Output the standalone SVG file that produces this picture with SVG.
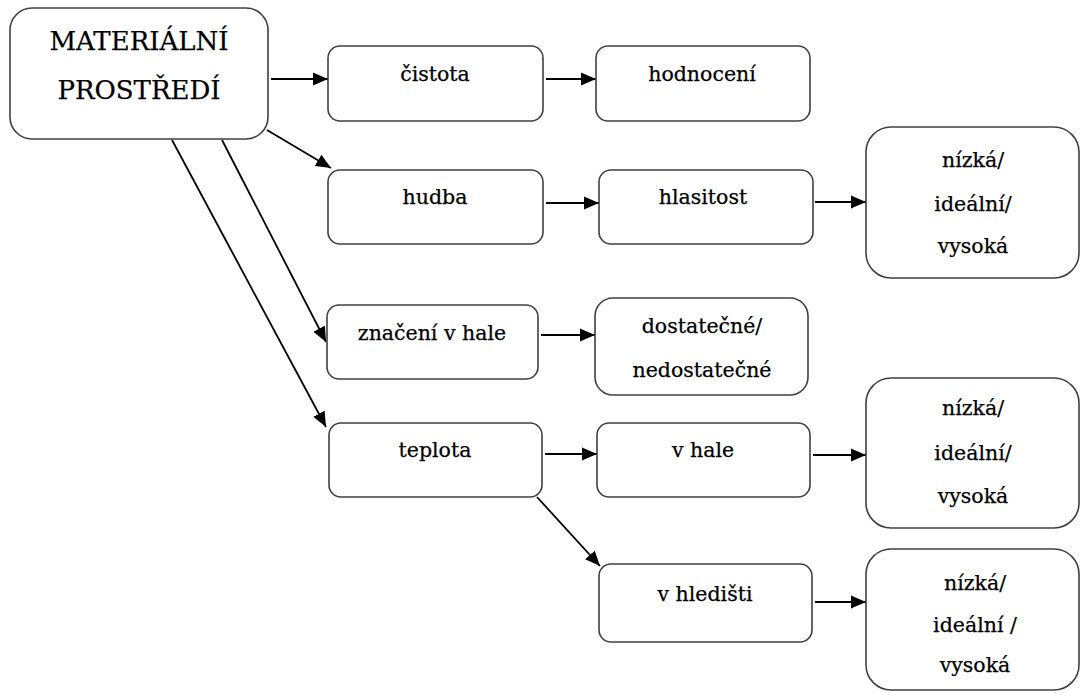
<svg xmlns="http://www.w3.org/2000/svg" width="1081" height="693" viewBox="0 0 1081 693">
<style>
.box{fill:#fff;stroke:#404040;stroke-width:1.6}
.t{font-family:"DejaVu Serif","Liberation Serif",serif;font-size:20.5px;fill:#000;stroke:#000;stroke-width:0.25;text-anchor:middle}
.big{font-size:26px}
.c{stroke:#000;stroke-width:1.8;fill:none;marker-end:url(#ah)}
</style>
<defs>
<marker id="ah" markerUnits="userSpaceOnUse" markerWidth="16" markerHeight="14" refX="15" refY="7" orient="auto">
<path d="M0,0.5 L15,7 L0,13.5 z" fill="#000"/>
</marker>
</defs>
<rect width="1081" height="693" fill="#fff"/>
<g id="connectors">
<line class="c" x1="271" y1="79" x2="328" y2="79"/>
<line class="c" x1="546" y1="79" x2="596" y2="79"/>
<line class="c" x1="267" y1="130" x2="331" y2="168"/>
<line class="c" x1="222" y1="140" x2="326" y2="342"/>
<line class="c" x1="172" y1="140" x2="326" y2="427"/>
<line class="c" x1="546" y1="203" x2="599" y2="203"/>
<line class="c" x1="815" y1="202" x2="866" y2="202"/>
<line class="c" x1="541" y1="335" x2="595" y2="335"/>
<line class="c" x1="545" y1="454" x2="597" y2="454"/>
<line class="c" x1="813" y1="455" x2="866" y2="455"/>
<line class="c" x1="537" y1="497" x2="600" y2="566"/>
<line class="c" x1="815" y1="602" x2="866" y2="602"/>
</g>
<g id="n-main"><rect class="box" x="10" y="8" width="258" height="131" rx="22"/>
<text class="t big" x="139" y="50">MATERIÁLNÍ</text><text class="t big" x="139" y="99">PROSTŘEDÍ</text></g>
<g id="n-cistota"><rect class="box" x="328" y="46" width="215" height="75" rx="12"/><text class="t" x="435" y="81">čistota</text></g>
<g id="n-hodnoceni"><rect class="box" x="596" y="46" width="214" height="75" rx="12"/><text class="t" x="702" y="81">hodnocení</text></g>
<g id="n-hudba"><rect class="box" x="328" y="170" width="215" height="74" rx="12"/><text class="t" x="435" y="204">hudba</text></g>
<g id="n-hlasitost"><rect class="box" x="599" y="170" width="214" height="74" rx="12"/><text class="t" x="703" y="204">hlasitost</text></g>
<g id="n-hlasitost-val"><rect class="box" x="866" y="127" width="213" height="151" rx="25"/>
<text class="t" x="973" y="167">nízká/</text><text class="t" x="973" y="211">ideální/</text><text class="t" x="973" y="253">vysoká</text></g>
<g id="n-znaceni"><rect class="box" x="327" y="305" width="211" height="74" rx="12"/><text class="t" x="432" y="340">značení v hale</text></g>
<g id="n-dostatecne"><rect class="box" x="595" y="298" width="213" height="97" rx="18"/>
<text class="t" x="702" y="333">dostatečné/</text><text class="t" x="702" y="377">nedostatečné</text></g>
<g id="n-teplota"><rect class="box" x="329" y="423" width="213" height="74" rx="12"/><text class="t" x="435" y="457">teplota</text></g>
<g id="n-vhale"><rect class="box" x="597" y="423" width="213" height="74" rx="12"/><text class="t" x="703" y="457">v hale</text></g>
<g id="n-vhale-val"><rect class="box" x="866" y="378" width="213" height="150" rx="25"/>
<text class="t" x="973" y="415">nízká/</text><text class="t" x="973" y="460">ideální/</text><text class="t" x="973" y="503">vysoká</text></g>
<g id="n-vhledisti"><rect class="box" x="599" y="564" width="213" height="78" rx="12"/><text class="t" x="705" y="601">v hledišti</text></g>
<g id="n-vhledisti-val"><rect class="box" x="866" y="549" width="213" height="141" rx="25"/>
<text class="t" x="975" y="590">nízká/</text><text class="t" x="975" y="632">ideální /</text><text class="t" x="975" y="672">vysoká</text></g>
</svg>
